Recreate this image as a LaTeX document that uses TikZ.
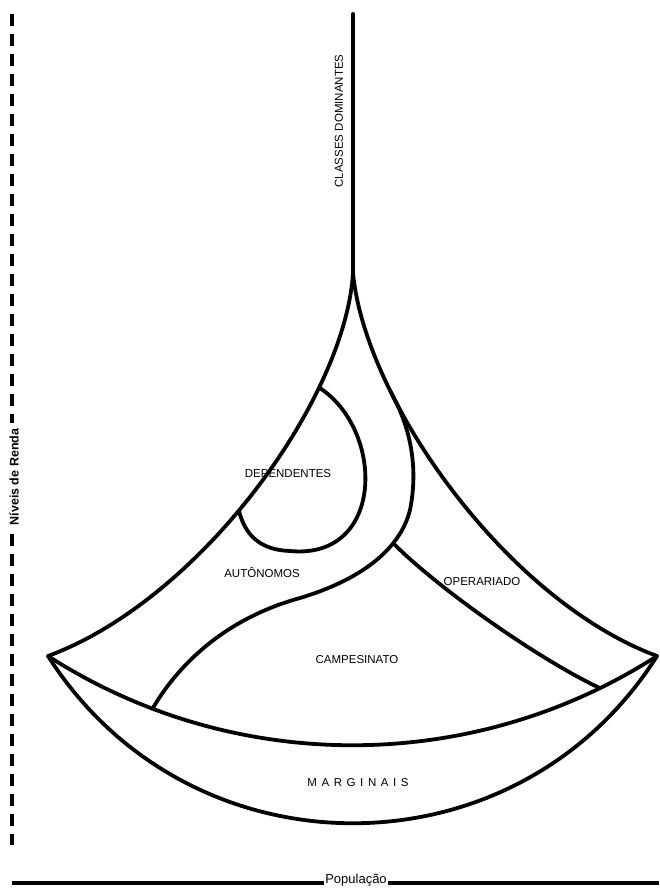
\documentclass[tikz,border=0pt]{standalone}
\usepackage{fontspec}
\setmainfont{Liberation Sans}
\begin{document}
\begin{tikzpicture}[x=1pt,y=-1pt,
  curve/.style={line width=3.8pt, line cap=round, line join=round},
  lbl/.style={font=\fontsize{11.5}{13}\selectfont, inner sep=1pt},
  axislbl/.style={fill=white, font=\fontsize{12.5}{14}\selectfont\bfseries, inner sep=2pt},
]
\useasboundingbox (0,0) rectangle (659,888);
\coordinate (top) at (353,14);
\coordinate (apex) at (353,273);
\coordinate (L) at (48,656);
\coordinate (R) at (657,656);

% axes
\draw[line width=4pt, dash pattern=on 12pt off 8pt] (12,14) coordinate (ya) -- (12,845) coordinate (yb);
\node[axislbl, rotate=90, inner ysep=1pt, inner xsep=6pt] (renda) at (14,477) {Níveis de Renda};
\draw[line width=4pt] (12,883) coordinate (xa) -- (659,883) coordinate (xb);
\node[axislbl, font=\fontsize{13}{15}\selectfont, inner sep=1pt] (pop) at (356,880.5) {População};

% stem
\draw[curve] (top) -- (apex);
% outer curves
\draw[curve] (apex) .. controls (345,400) and (200,600) .. (L)
  coordinate[pos=0.27] (dA) coordinate[pos=0.545] (dB);
\draw[curve] (apex) .. controls (365,400) and (506,600) .. (R)
  coordinate[pos=0.28] (sA);
% bowl
\draw[curve] (L) .. controls (233,775) and (472,775) .. (R)
  coordinate[pos=0.18] (sB) coordinate[pos=0.9] (oB);
\draw[curve] (L) .. controls (190,879) and (516,879) .. (R);
% dependentes
\draw[curve] (dA) .. controls (385,430) and (385,560) .. (290,551)
  .. controls (260,550) and (245,535) .. (dB);
% S curve
\draw[curve] (sA) .. controls (412,430) and (418,470) .. (410,510)
  .. controls (400,550) and (360,580) .. (300,598) coordinate[pos=0.3] (oA)
  .. controls (220,620) and (175,670) .. (sB);
% operariado
\draw[curve] (oA) .. controls (440,590) and (540,660) .. (oB);

% labels
\node[lbl, rotate=90] (cls) at (339,121) {CLASSES DOMINANTES};
\node[lbl] (dep) at (288,474) {DEPENDENTES};
\node[lbl] (aut) at (262,573) {AUTÔNOMOS};
\node[lbl] (ope) at (482,582) {OPERARIADO};
\node[lbl] (cam) at (357,660) {CAMPESINATO};
\node[lbl] (mar) at (358,783) {\addfontfeatures{LetterSpace=40}MARGINAIS};
\end{tikzpicture}
\end{document}
